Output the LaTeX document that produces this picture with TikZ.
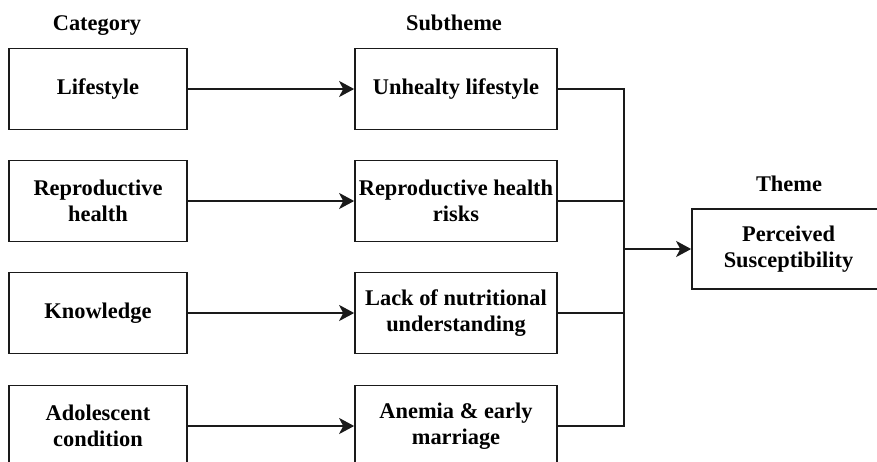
\documentclass[tikz,border=0pt]{standalone}
\usepackage{fontspec}
\setmainfont{Liberation Serif}
\usetikzlibrary{arrows.meta}
\definecolor{ink}{HTML}{1A1A1A}
\tikzset{
  box/.style={draw=ink, line width=1.7pt, fill=white, align=center, inner sep=0pt,
    font=\bfseries\fontsize{22.4}{25.5}\selectfont},
  catbox/.style={box, minimum width=178pt, minimum height=81pt},
  subbox/.style={box, minimum width=202pt, minimum height=81pt},
  thmbox/.style={box, minimum width=193pt, minimum height=80pt},
  heading/.style={font=\bfseries\fontsize{22.4}{25.5}\selectfont, inner sep=0pt, anchor=base},
  link/.style={draw=ink, line width=1.7pt},
  flow/.style={link, -{Stealth[length=15pt, width=16pt, inset=4pt]}}
}
\begin{document}
\begin{tikzpicture}[x=1pt, y=-1pt]
  \useasboundingbox (0,0) rectangle (877,461);
  \clip (0,0) rectangle (877,461);
  \fill[white] (0,0) rectangle (877,461);

  % column headings
  \node[heading] (hcat) at (97,30) {Category};
  \node[heading] (hsub) at (454,30) {Subtheme};
  \node[heading] (hthm) at (789,191) {Theme};

  % categories
  \node[catbox] (c1) at (98,89) {Lifestyle};
  \node[catbox] (c2) at (98,201) {Reproductive\\health};
  \node[catbox] (c3) at (98,313) {Knowledge};
  \node[catbox] (c4) at (98,426) {Adolescent\\condition};

  % subthemes
  \node[subbox] (s1) at (456,89) {Unhealty lifestyle};
  \node[subbox] (s2) at (456,201) {Reproductive health\\risks};
  \node[subbox] (s3) at (456,313) {Lack of nutritional\\understanding};
  \node[subbox] (s4) at (456,426) {Anemia \& early\\marriage};

  % theme
  \node[thmbox] (t) at (788.5,249) {Perceived\\Susceptibility};

  % category -> subtheme
  \foreach \i in {1,...,4} {
    \draw[flow] (c\i.east) -- (s\i.west);
  }

  % subthemes merge into one vertical bus
  \coordinate (bt) at (624,89);
  \coordinate (bb) at (624,426);
  \coordinate (bm) at (624,249);
  \foreach \i in {1,...,4} {
    \draw[link] (s\i.east) -| (624,0 |- s\i.east);
  }
  \draw[link, line cap=rect] (bt) -- (bb);
  \draw[flow] (bm) -- (t.west);
\end{tikzpicture}
\end{document}
